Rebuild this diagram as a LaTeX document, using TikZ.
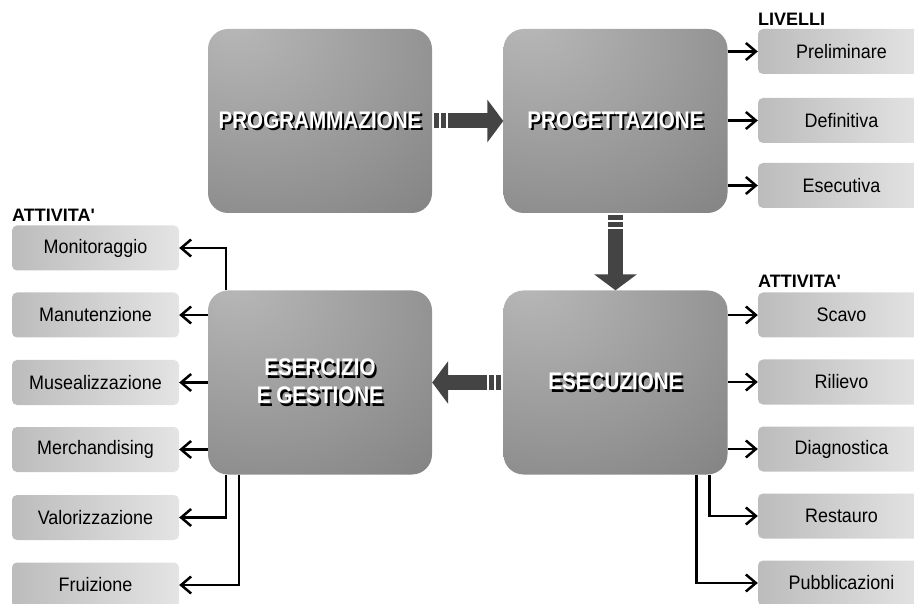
\documentclass[tikz,border=0pt]{standalone}
\usepackage{fontspec}
\setmainfont{Liberation Sans}
\usepackage{graphicx}
\usetikzlibrary{arrows.meta}

\definecolor{fatgray}{RGB}{68,68,68}
\definecolor{phaselight}{RGB}{184,184,184}
\definecolor{phasemid}{RGB}{150,150,150}
\definecolor{phasedark}{RGB}{104,104,104}
\definecolor{tagleft}{RGB}{188,188,188}
\definecolor{tagright}{RGB}{228,228,228}

% light spot towards the upper left of each phase box
\pgfdeclareradialshading{phaseshade}{\pgfpoint{-20bp}{28bp}}{%
  color(0bp)=(phaselight); color(35bp)=(phasemid);
  color(80bp)=(phasedark); color(110bp)=(phasedark)}

% white title with a black drop shadow
\newcommand{\embossed}[1]{\scalebox{0.86}[1]{\rlap{\hspace{2.5pt}\raisebox{-2.5pt}{\color{black}#1}}\color{white}#1}}
% slightly narrow label text
\newcommand{\narrowtext}[1]{\scalebox{0.92}[1]{#1}}

\begin{document}
\begin{tikzpicture}[x=1pt, y=-1pt,
  phase/.style={rectangle, rounded corners=20pt, minimum width=224pt,
    minimum height=184pt, shading=phaseshade, align=center,
    font=\fontsize{24}{28}\selectfont\bfseries},
  tag/.style={rectangle, rounded corners=5pt, minimum width=167pt,
    minimum height=45pt, left color=tagleft, right color=tagright,
    font=\fontsize{19.5}{21}\selectfont},
  heading/.style={anchor=base west, inner sep=0pt,
    font=\fontsize{18}{20}\selectfont\bfseries},
  link/.style={line width=2.5pt, -{Straight Barb[length=10pt,width=17pt]}},
  fat/.style={line width=15pt, fatgray, -{Triangle[length=16pt,width=42pt]}},
  bar/.style={line width=15pt, fatgray}]

  \clip (0,0) rectangle (914,604);

  % Phases
  \node[phase] (prog) at (320,121)   {\embossed{PROGRAMMAZIONE}};
  \node[phase] (proj) at (615.5,121) {\embossed{PROGETTAZIONE}};
  \node[phase] (exec) at (615.5,382.5) {\embossed{ESECUZIONE}};
  \node[phase] (eser) at (320,382.5) {\embossed{ESERCIZIO}\\\embossed{E GESTIONE}};

  % Levels of the design
  \node[heading] (livelli) at (758,26) {LIVELLI};
  \foreach \n/\t/\y in {pre/Preliminare/51.5, def/Definitiva/120.5, ese/Esecutiva/185.5}
    \node[tag] (\n) at (841.5,\y) {\narrowtext{\t}};

  % Activities of the execution
  \node[heading] (att-r) at (758,288) {ATTIVITA\textquotesingle};
  \foreach \n/\t/\y in {scavo/Scavo/315, ril/Rilievo/382, diag/Diagnostica/449,
                        rest/Restauro/516, pubb/Pubblicazioni/583}
    \node[tag] (\n) at (841.5,\y) {\narrowtext{\t}};

  % Activities of the management
  \node[heading] (att-l) at (12,222) {ATTIVITA\textquotesingle};
  \foreach \n/\t/\y in {moni/Monitoraggio/248, manu/Manutenzione/315,
                        muse/Musealizzazione/382.5, merc/Merchandising/449.5,
                        valo/Valorizzazione/517.5, frui/Fruizione/585}
    \node[tag] (\n) at (95.5,\y) {\narrowtext{\t}};

  % Links to the levels and activities
  \foreach \n in {pre,def,ese}
    \draw[link] (proj.east |- \n.west) -- (\n.west);
  \foreach \n in {scavo,ril,diag}
    \draw[link] (exec.east |- \n.west) -- (\n.west);
  \draw[link] ([xshift=-18pt]exec.south east) |- (rest.west);
  \draw[link] ([xshift=-31pt]exec.south east) |- (pubb.west);
  \foreach \n in {manu,muse,merc}
    \draw[link] (eser.west |- \n.east) -- (\n.east);
  \draw[link] ([xshift=18pt]eser.north west) |- (moni.east);
  \draw[link] ([xshift=18pt]eser.south west) |- (valo.east);
  \draw[link] ([xshift=31pt]eser.south west) |- (frui.east);

  % Flow between the phases
  \draw[bar] ([xshift=2pt]prog.east) -- ++(5,0);
  \draw[bar] ([xshift=9pt]prog.east) -- ++(5,0);
  \draw[fat] ([xshift=16pt]prog.east) -- (proj.west);

  \draw[bar] ([yshift=-2pt]proj.south) -- ++(0,5);
  \draw[bar] ([yshift=-9pt]proj.south) -- ++(0,5);
  \draw[fat] ([yshift=-16pt]proj.south) -- (exec.north);

  \draw[bar] ([xshift=-2pt]exec.west) -- ++(-5,0);
  \draw[bar] ([xshift=-9pt]exec.west) -- ++(-5,0);
  \draw[fat] ([xshift=-16pt]exec.west) -- (eser.east);

\end{tikzpicture}
\end{document}
